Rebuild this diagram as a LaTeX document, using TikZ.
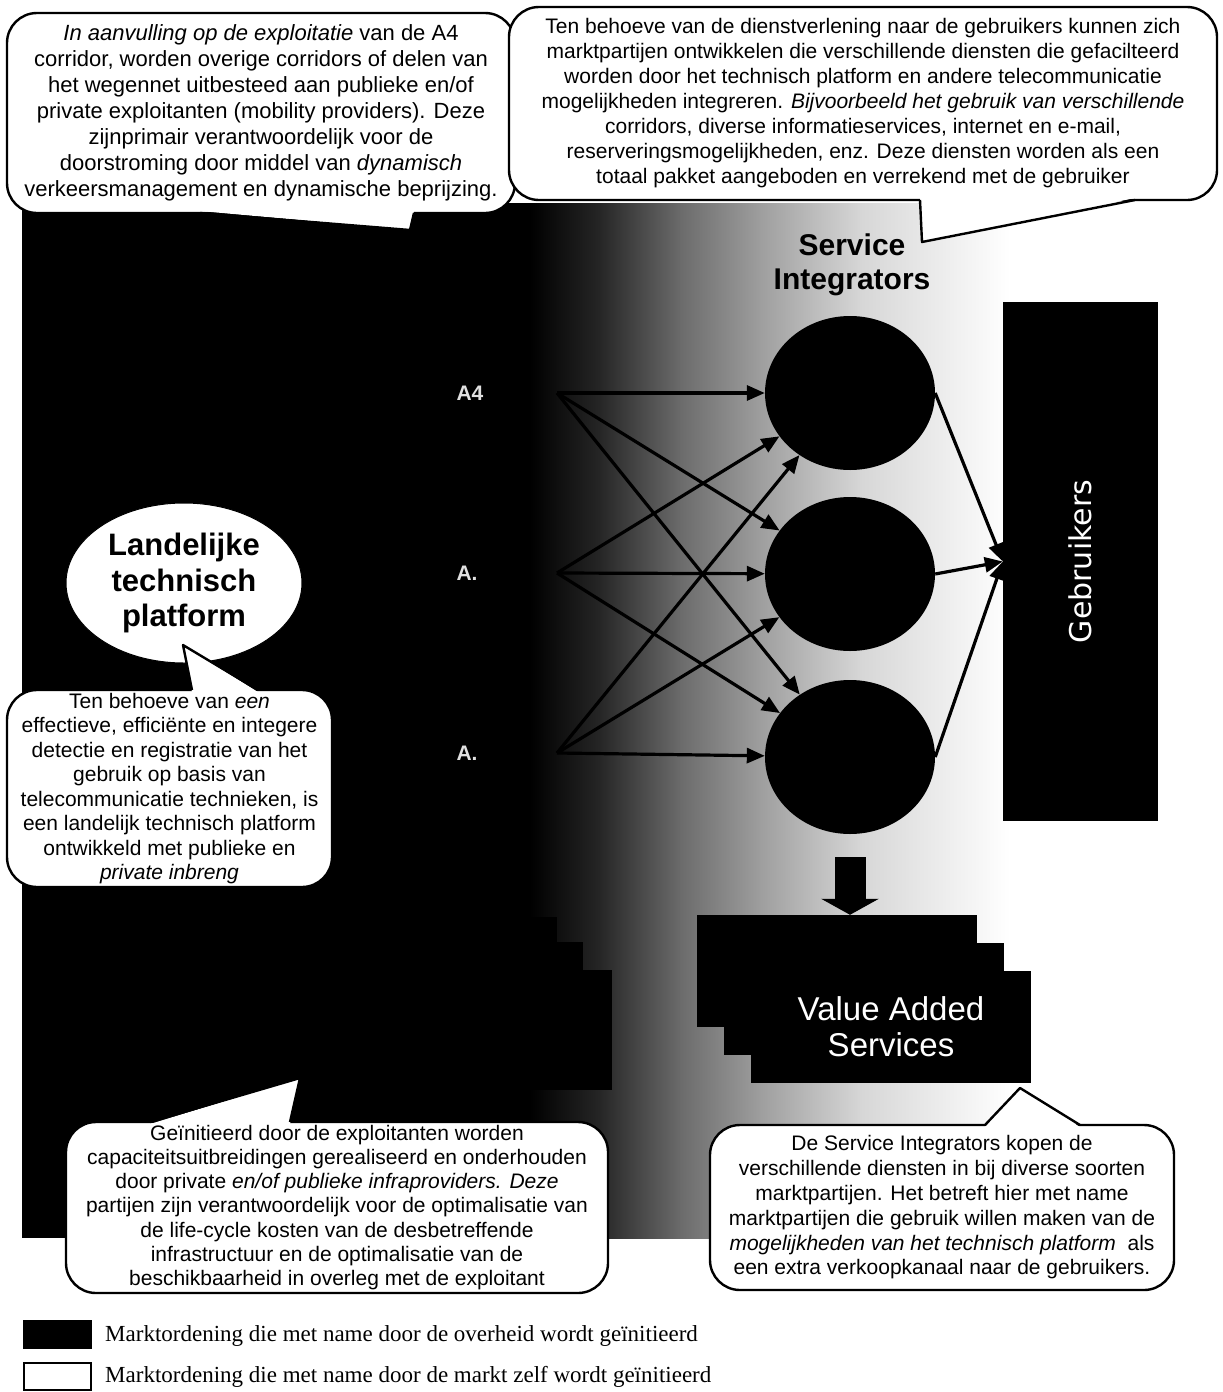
\documentclass[tikz,border=0pt]{standalone}
\usepackage{fontspec}
\setmainfont{Liberation Sans}
\newfontfamily\legfont{Liberation Serif}
\newfontfamily\dvs{DejaVu Sans}
\usetikzlibrary{shapes.geometric,arrows.meta,calc}
\begin{document}
\begin{tikzpicture}[x=1pt,y=-1pt,
  bubble/.style={draw=black, line width=2.4pt, fill=white, rounded corners=30pt, align=center, inner sep=0pt},
  blk/.style={fill=black, draw=none, inner sep=0pt},
  conn/.style={line width=3.2pt, -{Triangle[length=18pt,width=15pt]}},
  tailline/.style={draw=black, line width=2.4pt, line join=round},
  legtext/.style={anchor=west, font=\legfont\fontsize{23}{26}\selectfont, inner sep=0pt},
  alabel/.style={font=\bfseries\fontsize{21}{21}\selectfont, text=black!12, inner sep=0pt},
]
\useasboundingbox (0,0) rectangle (1223,1392);
\fill[white] (0,0) rectangle (1223,1392);

% background: black area fading to white
\fill[black] (22,203) rectangle (531,1238);
\shade[left color=black, right color=black!85] (530,203) rectangle (601,1238);
\shade[left color=black!85, right color=black!58] (600,203) rectangle (681,1238);
\shade[left color=black!58, right color=black!38] (680,203) rectangle (761,1238);
\shade[left color=black!38, right color=black!16] (760,203) rectangle (861,1238);
\shade[left color=black!16, right color=white] (860,203) rectangle (1010,1238);

% infra stack
\node[blk, minimum width=280pt, minimum height=120pt] (i1) at (417,977) {};
\node[blk, minimum width=280pt, minimum height=120pt] (i2) at (443,1002) {};
\node[blk, minimum width=280pt, minimum height=120pt] (i3) at (472,1030) {};

% corridor sources
\coordinate (s1) at (557,393);
\coordinate (s2) at (557,573);
\coordinate (s3) at (557,753);
\node[alabel] (a1) at (470,393) {A4};
\node[alabel] (a2) at (467,573) {A.};
\node[alabel] (a3) at (467,753) {A.};

% service integrators
\node[ellipse, fill=black, minimum width=170pt, minimum height=154pt, inner sep=0pt] (c1) at (850,393) {};
\node[ellipse, fill=black, minimum width=170pt, minimum height=154pt, inner sep=0pt] (c2) at (850,574) {};
\node[ellipse, fill=black, minimum width=170pt, minimum height=154pt, inner sep=0pt] (c3) at (850,757) {};
\foreach \s in {1,2,3}{\foreach \c in {1,2,3}{\draw[conn] (s\s) -- (c\c);}}

\node[font=\bfseries\fontsize{30}{34}\selectfont, align=center, inner sep=0pt] (si) at (852,265) {Service\\Integrators};

% Gebruikers
\node[blk, minimum width=155pt, minimum height=519pt, text=white, font=\dvs\fontsize{30}{30}\selectfont] (g) at (1080.5,561.5) {\rotatebox{90}{Gebruikers}};
\foreach \c in {1,2,3}{\draw[conn] (c\c.east) -- (g.west);}

% value added services stack
\node[blk, minimum width=280pt, minimum height=112pt] (v1) at (837,971) {};
\node[blk, minimum width=280pt, minimum height=112pt] (v2) at (864,999) {};
\node[blk, minimum width=280pt, minimum height=112pt, text=white, align=center, font=\fontsize{33}{36}\selectfont] (v3) at (891,1027) {Value Added\\Services};
\draw[line width=31pt, -{Triangle[length=16pt,width=57pt]}] ($(c3.south)+(0,23)$) -- (c3.south |- v1.north);

% bubbles
\node[bubble, minimum width=508pt, minimum height=200pt, font=\fontsize{22}{26}\selectfont] (b1) at (261,113)
 {\textit{In aanvulling op de exploitatie} van de A4\\
  corridor, worden overige corridors of delen van\\
  het wegennet uitbesteed aan publieke en/of\\
  private exploitanten (mobility providers). Deze\\
  zijnprimair verantwoordelijk voor de\\
  doorstroming door middel van \textit{dynamisch}\\
  verkeersmanagement en dynamische beprijzing.};
\fill[white] (200,211) -- (410,230) -- (414,211) -- cycle;
\draw[tailline] (200,213) -- (410,230) -- (414,213);

\node[bubble, minimum width=708pt, minimum height=193pt, font=\fontsize{21}{25}\selectfont] (b2) at (863,103.5)
 {Ten behoeve van de dienstverlening naar de gebruikers kunnen zich\\
  marktpartijen ontwikkelen die verschillende diensten die gefacilteerd\\
  worden door het technisch platform en andere telecommunicatie\\
  mogelijkheden integreren. \textit{Bijvoorbeeld het gebruik van verschillende}\\
  corridors, diverse informatieservices, internet en e-mail,\\
  reserveringsmogelijkheden, enz. Deze diensten worden als een\\
  totaal pakket aangeboden en verrekend met de gebruiker};
\fill[white] (920,198) -- (922,242) -- (1135,198) -- cycle;
\draw[tailline] (920,200) -- (922,242) -- (1135,200);

\node[ellipse, fill=white, draw=black, line width=1pt, minimum width=236pt, minimum height=160pt, inner sep=0pt, align=center, font=\bfseries\fontsize{31}{35.5}\selectfont] (lp) at (184,583) {Landelijke\\technisch\\platform};

\node[bubble, minimum width=325pt, minimum height=197pt, font=\fontsize{21}{24.5}\selectfont] (b3) at (169.5,788.5)
 {Ten behoeve van \textit{een}\\
  effectieve, efficiënte en integere\\
  detectie en registratie van het\\
  gebruik op basis van\\
  telecommunicatie technieken, is\\
  een landelijk technisch platform\\
  ontwikkeld met publieke en\\
  \textit{private inbreng}};
\fill[white] (192,692) -- (183,645) -- (258,692) -- cycle;
\draw[tailline] (192,690) -- (183,645) -- (258,690);

\node[bubble, minimum width=542pt, minimum height=171pt, font=\fontsize{21}{24.3}\selectfont] (b4) at (337,1207.5)
 {Geïnitieerd door de exploitanten worden\\
  capaciteitsuitbreidingen gerealiseerd en onderhouden\\
  door private \textit{en/of publieke infraproviders. Deze}\\
  partijen zijn verantwoordelijk voor de optimalisatie van\\
  de life-cycle kosten van de desbetreffende\\
  infrastructuur en de optimalisatie van de\\
  beschikbaarheid in overleg met de exploitant};
\fill[white] (150,1124) -- (300,1078) -- (290,1124) -- cycle;
\draw[tailline] (150,1122) -- (300,1078) -- (290,1122);

\node[bubble, minimum width=464pt, minimum height=165pt, font=\fontsize{21}{24.8}\selectfont] (b5) at (942,1207.5)
 {De Service Integrators kopen de\\
  verschillende diensten in bij diverse soorten\\
  marktpartijen. Het betreft hier met name\\
  marktpartijen die gebruik willen maken van de\\
  \textit{mogelijkheden van het technisch platform}\ \ als\\
  een extra verkoopkanaal naar de gebruikers.};
\fill[white] (985,1127) -- (1020,1088) -- (1080,1127) -- cycle;
\draw[tailline] (985,1125) -- (1020,1088) -- (1080,1125);

% legend
\node[blk, minimum width=69pt, minimum height=29pt] (k1) at (57.5,1334.5) {};
\node[draw=black, line width=2pt, fill=white, minimum width=67pt, minimum height=27pt, inner sep=0pt] (k2) at (57.5,1376.5) {};
\node[legtext] (t1) at (105,1336) {Marktordening die met name door de overheid wordt geïnitieerd};
\node[legtext] (t2) at (105,1377) {Marktordening die met name door de markt zelf wordt geïnitieerd};
\end{tikzpicture}
\end{document}
